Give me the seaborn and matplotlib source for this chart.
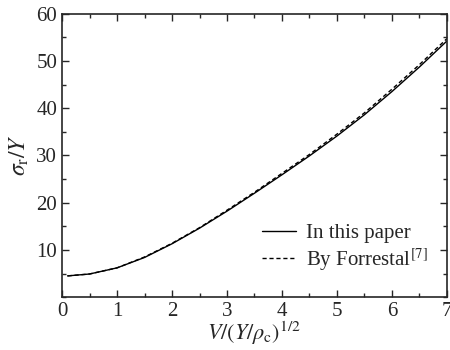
import numpy as np
import pandas as pd
import seaborn as sns
import matplotlib
matplotlib.use("Agg")
import matplotlib.pyplot as plt
from matplotlib.ticker import MultipleLocator

# values
v = [0.1, 0.5, 1.0, 1.5, 2.0, 2.5, 3.0, 3.5, 4.0, 4.5, 5.0, 5.5, 6.0, 6.5, 7.0]
sigma_paper = [4.5, 4.9, 6.2, 8.4, 11.3, 14.6, 18.2, 22.0, 25.9, 29.9, 34.1, 38.6, 43.5, 48.7, 54.2]
sigma_forrestal = [4.5, 4.9, 6.2, 8.5, 11.4, 14.7, 18.4, 22.2, 26.2, 30.2, 34.5, 39.0, 44.0, 49.2, 54.7]
labels = ["In this paper", r"By Forrestal$^{[7]}$"]

df = pd.DataFrame({
    "v": v + v,
    "sigma": sigma_paper + sigma_forrestal,
    "src": [labels[0]] * len(v) + [labels[1]] * len(v),
})

sns.set_style("ticks")
plt.rcParams["font.family"] = ["Liberation Serif", "DejaVu Serif"]
plt.rcParams["mathtext.fontset"] = "stix"

fig = plt.figure(figsize=(4.5, 3.5), dpi=100)
ax = fig.add_axes([0.138, 0.151, 0.855, 0.81])
sns.lineplot(data=df, x="v", y="sigma", hue="src", style="src",
             palette=["black", "black"], dashes=[(None, None), (3, 2)],
             linewidth=1.0, ax=ax)

ax.set_xlim(0, 7)
ax.set_ylim(0, 60)
ax.xaxis.set_major_locator(MultipleLocator(1))
ax.xaxis.set_minor_locator(MultipleLocator(0.5))
ax.yaxis.set_major_locator(MultipleLocator(10))
ax.yaxis.set_minor_locator(MultipleLocator(5))
ax.set_yticks([10, 20, 30, 40, 50, 60])
ax.tick_params(which="both", direction="in", top=True, right=True, labelsize=15, width=1)
ax.tick_params(which="major", length=5)
ax.tick_params(which="minor", length=3)
for s in ax.spines.values():
    s.set_linewidth(1.2)

ax.set_xlabel(r"$V/(Y/\rho_{\rm c})^{1/2}$", fontsize=16, labelpad=-1)
ax.set_ylabel(r"$\sigma_{\rm r}/Y$", fontsize=17, labelpad=4)

leg = ax.legend(loc="lower right", bbox_to_anchor=(1.0, 0.02), frameon=False,
                fontsize=15, handlelength=1.6, handletextpad=0.5, labelspacing=0.15)
leg.set_title(None)

fig.savefig("out.png", dpi=100)
